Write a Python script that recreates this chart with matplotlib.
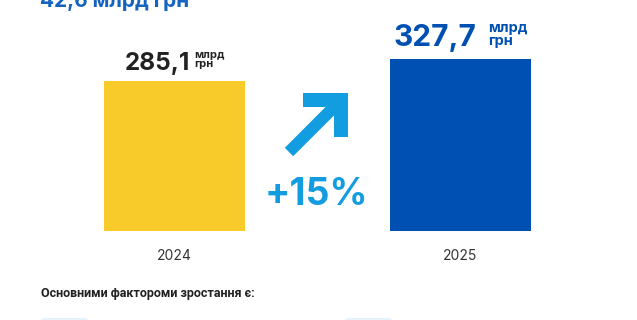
import matplotlib
matplotlib.use('Agg')
import matplotlib.pyplot as plt
from matplotlib.patches import Polygon, FancyBboxPatch

# data
years = ['2024', '2025']
values = [285.1, 327.7]
value_labels = ['285,1', '327,7']
unit_top = 'млрд'
unit_bottom = 'грн'
growth_label = '+15%'
header_text = '42,6 млрд грн'
footer_text = 'Основними фактороми зростання є:'

YELLOW = '#f8cb2a'
BLUE = '#0050b3'
LIGHT = '#119de0'
DARK = '#222222'

W, H = 637, 320
plt.rcParams['font.family'] = ['Inter', 'DejaVu Sans']

fig = plt.figure(figsize=(W / 100, H / 100), dpi=100)
fig.patch.set_facecolor('white')


def px(x, y):
    # pixel coords (top-left origin) -> figure fraction
    return x / W, 1 - y / H


# bars axes: baseline at y=231px, centers at 174.5 and 460.5 px
ax = fig.add_axes([0, (H - 231) / H, 1, 231 / H])
ax.set_xlim(-174.5 / 286, (W - 174.5) / 286)
ax.set_ylim(0, 439)
ax.bar(range(len(values)), values, width=141 / 286, color=[YELLOW, BLUE])
ax.set_xticks(range(len(years)), years)
ax.tick_params(axis='x', length=0, pad=13, labelsize=10, labelcolor='#333333')
ax.set_yticks([])
for s in ax.spines.values():
    s.set_visible(False)
ax.patch.set_alpha(0)

# value labels with stacked units
renderer = fig.canvas.get_renderer()
styles = [
    dict(color=DARK, fs=17.5, ufs=8, gap=11, u1=12, u2=3, sep=4),
    dict(color=BLUE, fs=21.5, ufs=10.5, gap=13, u1=14, u2=1, sep=12),
]
for i, (v, lab) in enumerate(zip(values, value_labels)):
    st = styles[i]
    t_num = ax.annotate(lab, xy=(i, v), xytext=(0, st['gap']), textcoords='offset pixels',
                        ha='left', va='baseline', fontsize=st['fs'], fontweight='bold',
                        color=st['color'])
    t_u1 = ax.annotate(unit_top, xy=(i, v), xytext=(0, 0), textcoords='offset pixels',
                       ha='left', va='baseline', fontsize=st['ufs'], fontweight='bold',
                       color=st['color'])
    t_u2 = ax.annotate(unit_bottom, xy=(i, v), xytext=(0, 0), textcoords='offset pixels',
                       ha='left', va='baseline', fontsize=st['ufs'], fontweight='bold',
                       color=st['color'])
    w_num = t_num.get_window_extent(renderer).width
    w_u = max(t_u1.get_window_extent(renderer).width, t_u2.get_window_extent(renderer).width)
    total = w_num + st['sep'] + w_u
    x0 = -total / 2
    t_num.xyann = (x0, st['gap'])
    t_u1.xyann = (x0 + w_num + st['sep'], st['gap'] + st['u1'])
    t_u2.xyann = (x0 + w_num + st['sep'], st['gap'] + st['u2'])

# growth arrow (north-east icon)
arrow_px = [(303, 93), (348, 93), (348, 137), (334, 137), (334, 115.5),
            (293.2, 156.2), (284.8, 147.8), (325.5, 107), (303, 107)]
fig.add_artist(Polygon([px(x, y) for x, y in arrow_px], closed=True,
                       transform=fig.transFigure, facecolor=LIGHT, edgecolor='none'))

fig.text(*px(316, 205), growth_label, ha='center', va='baseline', fontsize=27,
         fontweight='bold', color=LIGHT)

# header (cut off at top) and footer
fig.text(*px(40, 7), header_text, ha='left', va='baseline', fontsize=15,
         fontweight='bold', color='#1463c0')
fig.text(*px(41, 297), footer_text, ha='left', va='baseline', fontsize=9,
         fontweight='bold', color=DARK, family=['Roboto', 'DejaVu Sans'])

# pale boxes peeking at the bottom edge
for bx in (41, 345):
    fig.add_artist(FancyBboxPatch(px(bx, 326), 47 / W, 8 / H,
                                  boxstyle='round,pad=0,rounding_size=0.008',
                                  transform=fig.transFigure, facecolor='#e4f3fb',
                                  edgecolor='none'))

fig.savefig('out.png', dpi=100)
